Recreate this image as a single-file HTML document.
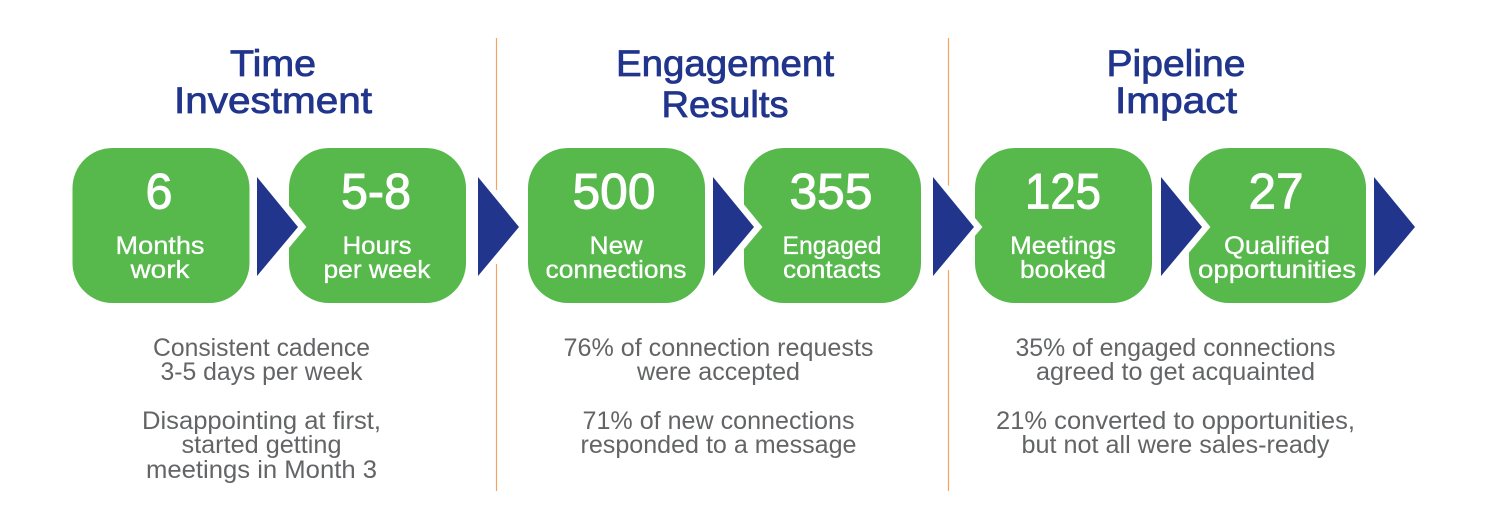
<!DOCTYPE html>
<html><head><meta charset="utf-8"><style>html,body{margin:0;padding:0;background:#fff}svg{display:block}
text{font-family:"Liberation Sans",Arial,sans-serif;text-anchor:middle}
.h{fill:#21358c;font-size:37px;font-weight:400;stroke:#21358c;stroke-width:.8px}
.n{fill:#fff;font-size:50px;stroke:#fff;stroke-width:1px}
.l{fill:#fff;font-size:25px;stroke:#fff;stroke-width:.3px}
.b{fill:#636466;font-size:25px}
</style></head><body>
<svg width="1499" height="527" viewBox="0 0 1499 527" xmlns="http://www.w3.org/2000/svg">
<rect width="1499" height="527" fill="#fff"/>
<g stroke="#f4a460" stroke-width="1.2">
<path d="M496.5 38V190M496.5 264V491"/>
<path d="M948.5 38V186M948.5 270V491"/>
</g>
<g fill="#57b84c">
<rect x="72.500" y="148" width="177" height="155" rx="40"/>
<rect x="289" y="148" width="177" height="155" rx="40"/>
<rect x="528" y="148" width="177" height="155" rx="40"/>
<rect x="744" y="148" width="177" height="155" rx="40"/>
<rect x="975" y="148" width="177" height="155" rx="40"/>
<rect x="1189" y="148" width="177" height="155" rx="40"/>
</g>
<g fill="#fff" stroke="#fff" stroke-width="13" stroke-miterlimit="10">
<path d="M257 177L298 227L257 276Z"/>
<path d="M713 177L754 227L713 276Z"/>
<path d="M933 177L974 227L933 276Z"/>
<path d="M1161 177L1202 227L1161 276Z"/>
</g>
<g fill="#21358c">
<path d="M257 177L298 227L257 276Z"/>
<path d="M478 177L519 227L478 276Z"/>
<path d="M713 177L754 227L713 276Z"/>
<path d="M933 177L974 227L933 276Z"/>
<path d="M1161 177L1202 227L1161 276Z"/>
<path d="M1374 177L1415 227L1374 276Z"/>
</g>
<text class="h" x="273" y="76" textLength="86" lengthAdjust="spacingAndGlyphs">Time</text>
<text class="h" x="273" y="113" textLength="198" lengthAdjust="spacingAndGlyphs">Investment</text>
<text class="h" x="725" y="76" textLength="218" lengthAdjust="spacingAndGlyphs">Engagement</text>
<text class="h" x="725" y="117" textLength="127" lengthAdjust="spacingAndGlyphs">Results</text>
<text class="h" x="1176" y="76" textLength="139" lengthAdjust="spacingAndGlyphs">Pipeline</text>
<text class="h" x="1176" y="113" textLength="122" lengthAdjust="spacingAndGlyphs">Impact</text>
<text class="n" x="159" y="208.500" textLength="27" lengthAdjust="spacingAndGlyphs">6</text>
<text class="n" x="376" y="208.500" textLength="70" lengthAdjust="spacingAndGlyphs">5-8</text>
<text class="n" x="614" y="208.500" textLength="83" lengthAdjust="spacingAndGlyphs">500</text>
<text class="n" x="831" y="208.500" textLength="83" lengthAdjust="spacingAndGlyphs">355</text>
<text class="n" x="1063" y="208.500" textLength="76" lengthAdjust="spacingAndGlyphs">125</text>
<text class="n" x="1276" y="208.500" textLength="55" lengthAdjust="spacingAndGlyphs">27</text>
<text class="l" x="160" y="254" textLength="89" lengthAdjust="spacingAndGlyphs">Months</text>
<text class="l" x="160" y="278" textLength="59" lengthAdjust="spacingAndGlyphs">work</text>
<text class="l" x="377" y="254" textLength="69" lengthAdjust="spacingAndGlyphs">Hours</text>
<text class="l" x="377" y="278" textLength="107" lengthAdjust="spacingAndGlyphs">per week</text>
<text class="l" x="616" y="254" textLength="53" lengthAdjust="spacingAndGlyphs">New</text>
<text class="l" x="616" y="278" textLength="141" lengthAdjust="spacingAndGlyphs">connections</text>
<text class="l" x="832" y="254" textLength="99" lengthAdjust="spacingAndGlyphs">Engaged</text>
<text class="l" x="832" y="278" textLength="98" lengthAdjust="spacingAndGlyphs">contacts</text>
<text class="l" x="1063" y="254" textLength="106" lengthAdjust="spacingAndGlyphs">Meetings</text>
<text class="l" x="1063" y="278" textLength="86" lengthAdjust="spacingAndGlyphs">booked</text>
<text class="l" x="1277" y="254" textLength="106" lengthAdjust="spacingAndGlyphs">Qualified</text>
<text class="l" x="1277" y="278" textLength="158" lengthAdjust="spacingAndGlyphs">opportunities</text>
<text class="b" x="261.500" y="356" textLength="217" lengthAdjust="spacingAndGlyphs">Consistent cadence</text>
<text class="b" x="261.500" y="380" textLength="202" lengthAdjust="spacingAndGlyphs">3-5 days per week</text>
<text class="b" x="261.500" y="429" textLength="239" lengthAdjust="spacingAndGlyphs">Disappointing at first,</text>
<text class="b" x="261.500" y="453" textLength="160" lengthAdjust="spacingAndGlyphs">started getting</text>
<text class="b" x="261.500" y="478" textLength="231" lengthAdjust="spacingAndGlyphs">meetings in Month 3</text>
<text class="b" x="718.500" y="356" textLength="310" lengthAdjust="spacingAndGlyphs">76% of connection requests</text>
<text class="b" x="718.500" y="380" textLength="163" lengthAdjust="spacingAndGlyphs">were accepted</text>
<text class="b" x="718.500" y="429" textLength="272" lengthAdjust="spacingAndGlyphs">71% of new connections</text>
<text class="b" x="718.500" y="453" textLength="276" lengthAdjust="spacingAndGlyphs">responded to a message</text>
<text class="b" x="1175.500" y="356" textLength="320" lengthAdjust="spacingAndGlyphs">35% of engaged connections</text>
<text class="b" x="1175.500" y="380" textLength="279" lengthAdjust="spacingAndGlyphs">agreed to get acquainted</text>
<text class="b" x="1175.500" y="429" textLength="359" lengthAdjust="spacingAndGlyphs">21% converted to opportunities,</text>
<text class="b" x="1175.500" y="453" textLength="308" lengthAdjust="spacingAndGlyphs">but not all were sales-ready</text>
</svg>
</body></html>
